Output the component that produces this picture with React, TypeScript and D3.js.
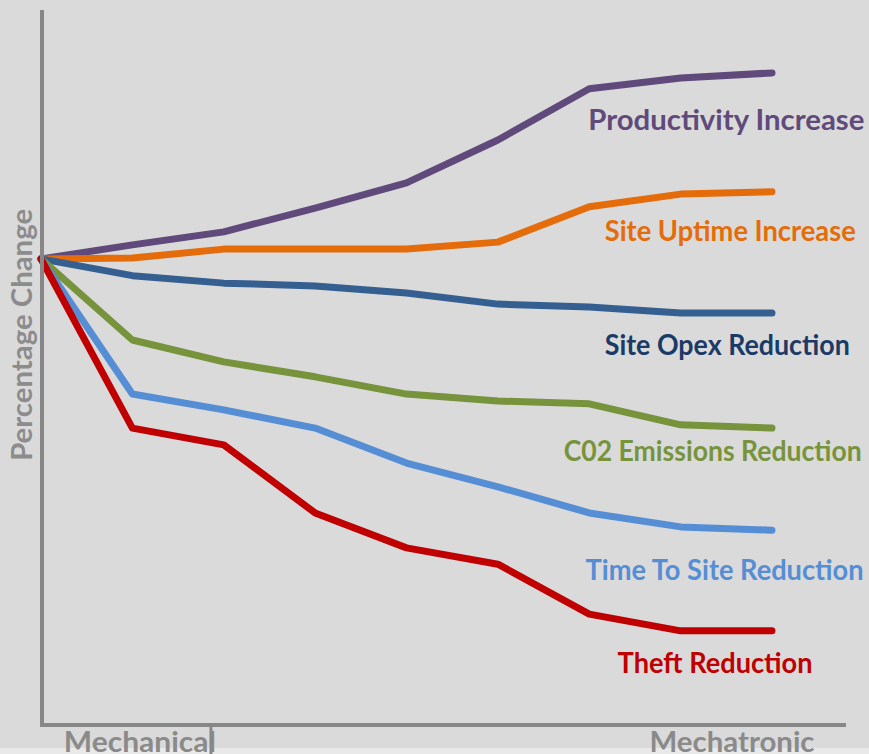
import React from 'react';
import * as d3 from 'd3';

// stages along the migration from mechanical to mechatronic
const stages = [0, 1, 2, 3, 4, 5, 6, 7, 8];
const axisCategories = ['Mechanical', 'Mechatronic'];
const yTitle = 'Percentage Change';

// percentage change per stage
const productivity = [0, 3.0, 5.8, 10.9, 16.3, 25.5, 36.5, 38.8, 39.9];
const siteUptime = [0, 0.2, 2.1, 2.1, 2.1, 3.6, 11.2, 13.9, 14.4];
const siteOpex = [0, -3.6, -5.2, -5.8, -7.3, -9.7, -10.3, -11.6, -11.6];
const co2 = [0, -17.4, -22.1, -25.3, -29.0, -30.5, -31.1, -35.6, -36.3];
const timeToSite = [0, -29.0, -32.4, -36.3, -43.8, -48.9, -54.5, -57.5, -58.2];
const theft = [0, -36.3, -39.9, -54.5, -62.0, -65.5, -76.2, -79.8, -79.8];

const seriesNames = [
  'Productivity Increase',
  'Site Uptime Increase',
  'Site Opex Reduction',
  'C02 Emissions Reduction',
  'Time To Site Reduction',
  'Theft Reduction',
];
const seriesValues = [productivity, siteUptime, siteOpex, co2, timeToSite, theft];

const lineColors = ['#604a7b', '#e46c0a', '#355f91', '#77933c', '#558ed5', '#c00000'];
const labelColors = ['#604a7b', '#e46c0a', '#1b3a66', '#77933c', '#558ed5', '#c00000'];
// where each label sits: left edge and baseline (in data units), and its drawn width in px
const labelPos = [
  { x: 5.99, y: 27.6, w: 276 },
  { x: 6.17, y: 3.9, w: 251 },
  { x: 6.17, y: -20.6, w: 245 },
  { x: 5.72, y: -43.4, w: 298 },
  { x: 5.96, y: -68.9, w: 278 },
  { x: 6.31, y: -88.8, w: 195 },
];

const W = 869;
const H = 754;

export default function App() {
  const x = d3.scaleLinear().domain([0, 8]).range([41, 772]);
  const y = d3.scaleLinear().domain([-100, 53.4]).range([725, 10]);

  const line = d3
    .line<number>()
    .x((_, i) => x(stages[i]))
    .y(d => y(d));

  const axisColor = '#878787';
  const font = 'Lato, "Open Sans", sans-serif';
  const fs = 28;

  return (
    <div style={{ position: 'absolute', left: 0, top: 0 }}>
      <svg width={W} height={H} style={{ display: 'block', fontFamily: font }}>
        <rect x={0} y={0} width={W} height={H} fill="#dadada" />
        <rect x={0} y={748} width={W} height={H - 748} fill="#e9e9e9" />

        {seriesValues.map((vals, i) => (
          <path
            key={seriesNames[i]}
            d={line(vals) || ''}
            fill="none"
            stroke={lineColors[i]}
            strokeWidth={7}
            strokeLinejoin="round"
            strokeLinecap="round"
          />
        ))}

        <text
          transform={`translate(32,${y(-16.3)}) rotate(-90)`}
          textAnchor="middle"
          fontSize={fs}
          fontWeight={700}
          fill="#8c8c8c"
          textLength={252}
          lengthAdjust="spacingAndGlyphs"
        >
          {yTitle}
        </text>

        <text x={x(0.25)} y={752} fontSize={fs} fontWeight={700} fill="#8a8a8a"
          textLength={152} lengthAdjust="spacingAndGlyphs">
          {axisCategories[0]}
        </text>
        <text x={x(6.66)} y={752} fontSize={fs} fontWeight={700} fill="#8a8a8a"
          textLength={165} lengthAdjust="spacingAndGlyphs">
          {axisCategories[1]}
        </text>

        {/* axes */}
        <line x1={42} x2={42} y1={10} y2={727} stroke={axisColor} strokeWidth={4} />
        <line x1={40} x2={x(8.81)} y1={725} y2={725} stroke={axisColor} strokeWidth={4} />
        <line x1={x(1.86)} x2={x(1.86)} y1={725} y2={H} stroke={axisColor} strokeWidth={3} />

        {seriesNames.map((name, i) => (
          <text
            key={name}
            x={x(labelPos[i].x)}
            y={y(labelPos[i].y)}
            fontSize={fs}
            fontWeight={700}
            fill={labelColors[i]}
            textLength={labelPos[i].w}
            lengthAdjust="spacingAndGlyphs"
          >
            {name}
          </text>
        ))}
      </svg>
    </div>
  );
}
